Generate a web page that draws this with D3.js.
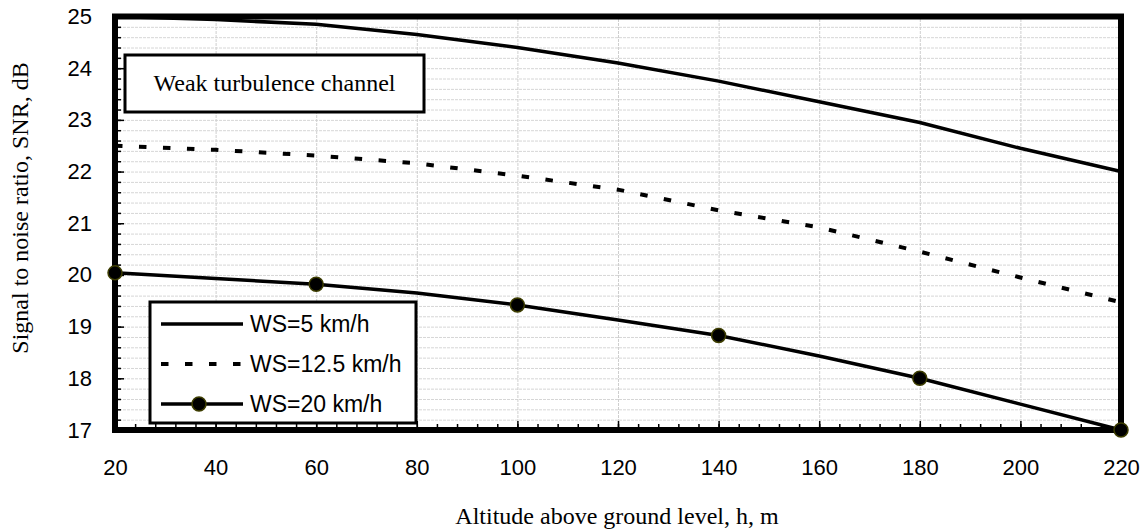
<!DOCTYPE html>
<html>
<head>
<meta charset="utf-8">
<script src="https://cdn.jsdelivr.net/npm/d3@7"></script>
<style>
  body { margin: 0; background: #ffffff; }
</style>
</head>
<body>
<div id="container"></div>
<script>
let w = 1146;
let h = 531;

// DATA
let altitude = [20, 40, 60, 80, 100, 120, 140, 160, 180, 200, 220];
let ws5 = [25.0, 24.94, 24.85, 24.65, 24.4, 24.1, 23.75, 23.35, 22.95, 22.45, 22.0];
let ws125 = [22.5, 22.42, 22.31, 22.16, 21.92, 21.65, 21.25, 20.92, 20.45, 19.95, 19.47];
let ws20 = [20.04, 19.93, 19.82, 19.65, 19.42, 19.13, 18.83, 18.43, 18.0, 17.5, 17.0];
let markerAltitudes = [20, 60, 100, 140, 180, 220];
let seriesNames = ["WS=5 km/h", "WS=12.5 km/h", "WS=20 km/h"];
let xTicks = [20, 40, 60, 80, 100, 120, 140, 160, 180, 200, 220];
let yTicks = [17, 18, 19, 20, 21, 22, 23, 24, 25];

let viz = d3.select("#container").append("svg")
    .attr("width", w)
    .attr("height", h)
    .style("background-color", "#ffffff")
;

let x = d3.scaleLinear().domain([20, 220]).range([115, 1121]);
let y = d3.scaleLinear().domain([17, 25]).range([430, 16.5]);

let sans = "'Liberation Sans', Arial, sans-serif";
let serif = "'Liberation Serif', 'Times New Roman', serif";

// GRID
let minorY = d3.range(41).map(i => 17 + i * 0.2);
let minorX = d3.range(51).map(i => 20 + i * 4);

viz.append("g")
    .attr("transform", "translate(" + x(20) + ",0)")
    .call(d3.axisRight(y).tickValues(minorY).tickSize(x(220) - x(20)).tickFormat(""))
    .call(g => g.select(".domain").remove())
    .selectAll("line")
    .attr("stroke", "#d6d6d6")
    .attr("stroke-width", 1)
    .attr("stroke-dasharray", "3,1");

viz.append("g")
    .attr("transform", "translate(0," + y(17) + ")")
    .call(d3.axisBottom(x).tickValues(xTicks.slice(1, -1)).tickSize(-(y(17) - y(25))).tickFormat(""))
    .call(g => g.select(".domain").remove())
    .selectAll("line")
    .attr("stroke", "#cfcfcf")
    .attr("stroke-width", 1)
    .attr("stroke-dasharray", "3,1");

// FRAME
viz.append("rect")
    .attr("x", x(20))
    .attr("y", y(25))
    .attr("width", x(220) - x(20))
    .attr("height", y(17) - y(25))
    .attr("fill", "none")
    .attr("stroke", "#000")
    .attr("stroke-width", 6);

// inner ticks
function tickStyle(g) {
  g.select(".domain").remove();
  g.selectAll("line").attr("stroke", "#000").attr("stroke-width", 1.5);
}
viz.append("g").attr("transform", "translate(" + x(20) + ",0)")
    .call(d3.axisRight(y).tickValues(minorY).tickSize(6).tickFormat("")).call(tickStyle);
viz.append("g").attr("transform", "translate(" + x(20) + ",0)")
    .call(d3.axisRight(y).tickValues(yTicks).tickSize(9).tickFormat("")).call(tickStyle);
viz.append("g").attr("transform", "translate(0," + y(17) + ")")
    .call(d3.axisTop(x).tickValues(minorX).tickSize(6).tickFormat("")).call(tickStyle);
viz.append("g").attr("transform", "translate(0," + y(17) + ")")
    .call(d3.axisTop(x).tickValues(xTicks).tickSize(9).tickFormat("")).call(tickStyle);

// tick labels
viz.append("g").attr("transform", "translate(" + x(20) + ",0)")
    .call(d3.axisLeft(y).tickValues(yTicks).tickSize(0).tickPadding(23))
    .call(g => g.select(".domain").remove())
    .selectAll("text")
    .attr("font-family", sans).attr("font-size", 22).attr("fill", "#000");

viz.append("g").attr("transform", "translate(0," + y(17) + ")")
    .call(d3.axisBottom(x).tickValues(xTicks).tickSize(0).tickPadding(29))
    .call(g => g.select(".domain").remove())
    .selectAll("text")
    .attr("font-family", sans).attr("font-size", 22).attr("fill", "#000");

// LINES
let lineMaker = d3.line().x(d => x(d[0])).y(d => y(d[1]));

viz.append("path")
    .datum(d3.zip(altitude, ws5))
    .attr("d", lineMaker)
    .attr("fill", "none").attr("stroke", "#000").attr("stroke-width", 3.5);

viz.append("path")
    .datum(d3.zip(altitude, ws125))
    .attr("d", lineMaker)
    .attr("fill", "none").attr("stroke", "#000").attr("stroke-width", 4)
    .attr("stroke-dasharray", "7.5,16.5");

viz.append("path")
    .datum(d3.zip(altitude, ws20))
    .attr("d", lineMaker)
    .attr("fill", "none").attr("stroke", "#000").attr("stroke-width", 3.5);

viz.selectAll(".marker")
    .data(d3.zip(altitude, ws20).filter(d => markerAltitudes.includes(d[0])))
    .enter()
    .append("circle")
    .attr("class", "marker")
    .attr("cx", d => x(d[0]))
    .attr("cy", d => y(d[1]))
    .attr("r", 7)
    .attr("fill", "#000")
    .attr("stroke", "#3d3d00")
    .attr("stroke-width", 1.5);

// TITLE BOX
viz.append("rect")
    .attr("x", 125).attr("y", 55).attr("width", 299).attr("height", 57)
    .attr("fill", "#fff").attr("stroke", "#000").attr("stroke-width", 3);
viz.append("text")
    .attr("x", 274.5).attr("y", 91)
    .attr("text-anchor", "middle")
    .attr("font-family", serif).attr("font-size", 24)
    .text("Weak turbulence channel");

// LEGEND
let legend = viz.append("g");
legend.append("rect")
    .attr("x", 150).attr("y", 302).attr("width", 266).attr("height", 121)
    .attr("fill", "#fff").attr("stroke", "#000").attr("stroke-width", 3);
let rowY = [324, 364, 404];
seriesNames.forEach((name, i) => {
  let ln = legend.append("line")
      .attr("x1", 161).attr("x2", 243)
      .attr("y1", rowY[i]).attr("y2", rowY[i])
      .attr("stroke", "#000")
      .attr("stroke-width", i == 1 ? 4 : 3.5);
  if (i == 1) ln.attr("stroke-dasharray", "7.5,16.5");
  if (i == 2) {
    legend.append("circle")
        .attr("cx", 199).attr("cy", rowY[i]).attr("r", 7)
        .attr("fill", "#000").attr("stroke", "#3d3d00").attr("stroke-width", 1.5);
  }
  legend.append("text")
      .attr("x", 250).attr("y", rowY[i] + 8)
      .attr("font-family", sans).attr("font-size", 23)
      .text(name);
});

// AXIS TITLES
viz.append("text")
    .attr("x", 617).attr("y", 524)
    .attr("text-anchor", "middle")
    .attr("font-family", serif).attr("font-size", 24)
    .text("Altitude above ground level, h, m");

viz.append("text")
    .attr("transform", "translate(28,208) rotate(-90)")
    .attr("text-anchor", "middle")
    .attr("font-family", serif).attr("font-size", 24)
    .text("Signal to noise ratio, SNR, dB");
</script>
</body>
</html>
